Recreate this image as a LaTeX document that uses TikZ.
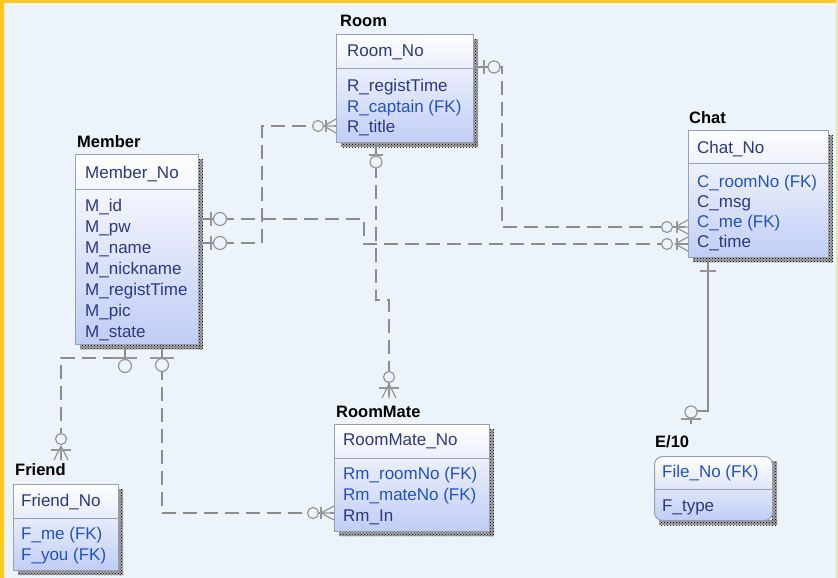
\documentclass[tikz,border=0pt]{standalone}
\usepackage{fontspec}
\setmainfont{Liberation Sans}
\usetikzlibrary{calc,patterns}
\definecolor{bgc}{RGB}{236,243,250}
\definecolor{yel}{RGB}{255,198,40}
\definecolor{yelpale}{RGB}{240,225,170}
\definecolor{pkc}{RGB}{44,56,128}
\definecolor{fkc}{RGB}{34,82,192}
\definecolor{bord}{RGB}{150,160,182}
\definecolor{boxb}{RGB}{192,205,245}
\definecolor{lnc}{RGB}{140,140,140}
\definecolor{symc}{RGB}{150,150,150}
\tikzset{
  entbox/.style={draw=bord, line width=1pt, top color=white, bottom color=boxb, anchor=north west, inner sep=0pt},
  ttl/.style={font=\fontsize{16.5}{18}\selectfont\bfseries, anchor=base west, inner sep=0pt, text=black},
  attr/.style={font=\fontsize{17}{20}\selectfont, anchor=base west, inner sep=0pt, text=pkc},
  rel/.style={draw=lnc, line width=2.5pt, dash pattern=on 14pt off 7pt},
  idrel/.style={draw=lnc, line width=1.5pt},
  symb/.style={draw=symc, line width=1.2pt},
  circ/.style={draw=symc, line width=1.2pt, fill=bgc},
  shadbase/.style={fill=black!35},
  shad/.style={pattern=crosshatch dots, pattern color=black},
}
\newcommand\fk[1]{\textcolor{fkc}{#1}}
% name, x, y, w, h, sep offset, extra style
\newcommand\erent[7]{%
  \fill[shadbase] (#2+#4,#3+5) rectangle (#2+#4+5,#3+#5+5);
  \fill[shadbase] (#2+5,#3+#5) rectangle (#2+#4+5,#3+#5+5);
  \fill[shad] (#2+#4,#3+5) rectangle (#2+#4+5,#3+#5+5);
  \fill[shad] (#2+5,#3+#5) rectangle (#2+#4+5,#3+#5+5);
  \node[entbox, minimum width=#4pt, minimum height=#5pt, #7] (#1) at (#2,#3) {};
  \draw[draw=bord, line width=1pt] ($(#1.north west)+(0,#6)$) -- ($(#1.north east)+(0,#6)$);
}
% name, x, first baseline, spacing, list
\newcommand\erows[5]{%
  \foreach \t [count=\i] in {#5} {\node[attr] (#1r\i) at (#2,{#3+(\i-1)*#4}) {\t};}
}
\begin{document}
\begin{tikzpicture}[x=1pt,y=-1pt]
\useasboundingbox (0,0) rectangle (838,578);
\fill[bgc] (0,0) rectangle (838,578);
\fill[yel] (0,0) rectangle (4,578);
\fill[yel] (0,0) rectangle (838,3);
\fill[yelpale] (835.5,0) rectangle (838,578);

% ---------- entities ----------
\erent{room}{336}{34}{137}{108}{35}{}
\node[ttl] (roomT) at (340,27) {Room};
\node[attr] (roomH) at (347,57) {Room\_No};
\erows{room}{347}{92}{20.3}{R\_registTime, \fk{R\_captain (FK)}, R\_title}

\erent{member}{75}{154}{123}{190}{35}{}
\node[ttl] (memberT) at (77,147) {Member};
\node[attr] (memberH) at (85,178) {Member\_No};
\erows{member}{85}{211}{21}{M\_id, M\_pw, M\_name, M\_nickname, M\_registTime, M\_pic, M\_state}

\erent{chat}{688}{130}{140}{127}{33}{}
\node[ttl] (chatT) at (689,123) {Chat};
\node[attr] (chatH) at (697,153) {Chat\_No};
\erows{chat}{697}{187}{20.3}{\fk{C\_roomNo (FK)}, C\_msg, \fk{C\_me (FK)}, C\_time}

\erent{roommate}{334}{424}{155}{107}{34}{}
\node[ttl] (roommateT) at (336,417) {RoomMate};
\node[attr] (roommateH) at (343,445) {RoomMate\_No};
\erows{roommate}{343}{479}{21}{\fk{Rm\_roomNo (FK)}, \fk{Rm\_mateNo (FK)}, Rm\_In}

\erent{friend}{13}{484}{105}{86}{34}{}
\node[ttl] (friendT) at (15,475) {Friend};
\node[attr] (friendH) at (21,506) {Friend\_No};
\erows{friend}{21}{539}{21}{\fk{F\_me (FK)}, \fk{F\_you (FK)}}

\erent{efile}{654}{456}{118}{64}{33}{rounded corners=8pt}
\node[ttl] (efileT) at (655,447) {E/10};
\node[attr, text=fkc] (efileH) at (662,477) {File\_No (FK)};
\erows{efile}{662}{511}{21}{F\_type}

% ---------- connector end points ----------
\coordinate (c1a) at ($(room.north east)+(0,33)$);
\coordinate (c1b) at ($(chat.north west)+(0,97)$);
\coordinate (c2a) at ($(member.north east)+(0,65)$);
\coordinate (c2b) at ($(chat.north west)+(0,114)$);
\coordinate (c3a) at ($(member.north east)+(0,89)$);
\coordinate (c3b) at ($(room.north west)+(0,92)$);
\coordinate (c4a) at ($(room.south west)+(40,0)$);
\coordinate (c4b) at ($(roommate.north west)+(55,-26)$);
\coordinate (c5a) at ($(member.south west)+(50,0)$);
\coordinate (c5b) at ($(friend.north west)+(48,-24)$);
\coordinate (c6a) at ($(member.south west)+(87,0)$);
\coordinate (c6b) at ($(roommate.north west)+(0,89)$);
\coordinate (c7a) at ($(chat.south west)+(20,0)$);
\coordinate (c7b) at ($(efile.north west)+(37,-32)$);

% ---------- connectors ----------
\draw[rel] (c1a) -- ++(28,0) |- (c1b);
\draw[rel] (c2a) -- ++(165,0) |- (c2b);
\draw[rel] (c3a) -- ++(63,0) |- (c3b);
\draw[rel] (c4a) -- ++(0,157) -| (c4b);
\draw[rel] (c5a) -- ++(0,13) -| (c5b);
\draw[rel] (c6a) |- (c6b);
\draw[idrel] (c7a) -- ++(0,153) -| (c7b);

% ---------- symbols: one (bar) + optional (circle) at parent ends ----------
\draw[symb] ($(c1a)+(10,-7)$) -- ++(0,14);
\draw[circ] ($(c1a)+(20,0)$) circle[radius=6pt];
\draw[symb] ($(c2a)+(12,-7)$) -- ++(0,14);
\draw[circ] ($(c2a)+(21,0)$) circle[radius=6.5pt];
\draw[symb] ($(c3a)+(12,-7)$) -- ++(0,14);
\draw[circ] ($(c3a)+(21,0)$) circle[radius=6.5pt];
\draw[symb] ($(c4a)+(-7,12)$) -- ++(14,0);
\draw[circ] ($(c4a)+(0,19)$) circle[radius=6pt];
\draw[symb] ($(c5a)+(-12,13)$) -- ++(24,0);
\draw[circ] ($(c5a)+(0,21)$) circle[radius=6.5pt];
\draw[symb] ($(c6a)+(-12,13)$) -- ++(24,0);
\draw[circ] ($(c6a)+(0,20)$) circle[radius=6.5pt];
\draw[symb] ($(c7a)+(-8,13)$) -- ++(16,0);

% ---------- symbols: many (crow's foot) at child ends ----------
\foreach \c in {c1b,c2b} {
  \draw[circ] ($(\c)+(-21,0)$) circle[radius=5.5pt];
  \draw[symb] ($(\c)+(-11,-6)$) -- ++(0,12);
  \draw[symb] ($(\c)+(-13,0)$) -- ($(\c)+(0,-7)$)
              ($(\c)+(-13,0)$) -- (\c)
              ($(\c)+(-13,0)$) -- ($(\c)+(0,7)$);
}
\draw[circ] ($(c3b)+(-18,0)$) circle[radius=5.5pt];
\draw[symb] ($(c3b)+(-10,-6)$) -- ++(0,12);
\draw[symb] ($(c3b)+(-12,0)$) -- ($(c3b)+(0,-7)$)
            ($(c3b)+(-12,0)$) -- (c3b)
            ($(c3b)+(-12,0)$) -- ($(c3b)+(0,7)$);
\draw[circ] ($(c6b)+(-21,0)$) circle[radius=5.5pt];
\draw[symb] ($(c6b)+(-13,-6)$) -- ++(0,12);
\draw[symb] ($(c6b)+(-13,0)$) -- ($(c6b)+(0,-7)$)
            ($(c6b)+(-13,0)$) -- (c6b)
            ($(c6b)+(-13,0)$) -- ($(c6b)+(0,7)$);
\foreach \c in {c4b,c5b} {
  \draw[circ] ($(\c)+(0,-21)$) circle[radius=5.5pt];
  \draw[symb] ($(\c)+(-10,-10)$) -- ++(20,0);
  \draw[symb] ($(\c)+(0,-14)$) -- ($(\c)+(-7,0)$)
              ($(\c)+(0,-14)$) -- (\c)
              ($(\c)+(0,-14)$) -- ($(\c)+(7,0)$);
}
\draw[circ] ($(c7b)+(0,-12)$) circle[radius=6pt];
\draw[symb] ($(c7b)+(-10,-5)$) -- ++(20,0);
\end{tikzpicture}
\end{document}
